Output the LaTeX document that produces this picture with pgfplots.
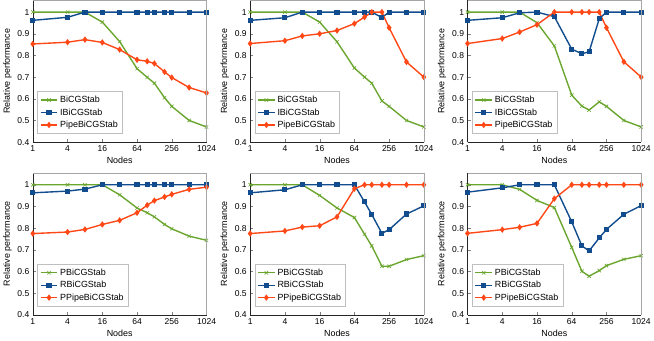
\documentclass[border=0pt]{standalone}
\usepackage{fontspec}
\setmainfont{Liberation Sans}
\usepackage{pgfplots}
\pgfplotsset{compat=1.18}
\usepgfplotslibrary{groupplots}

\definecolor{cgreen}{RGB}{106,166,46}
\definecolor{cblue}{RGB}{16,76,142}
\definecolor{cred}{RGB}{255,72,22}

\pgfplotsset{
  panel/.style={
    scale only axis, width=175pt, height=143pt,
    xmode=log, log basis x=2, xmin=1, xmax=1024,
    ymin=0.4, ymax=1.055,
    xtick={1,4,16,64,256,1024},
    xticklabels={1,4,16,64,256,1024},
    ytick={0.4,0.5,0.6,0.7,0.8,0.9,1},
    yticklabel style={/pgf/number format/fixed,/pgf/number format/precision=1},
    /pgf/number format/assume math mode=true,
    tick label style={font=\fontsize{8.6}{10}\selectfont},
    label style={font=\fontsize{9}{10}\selectfont},
    xlabel={Nodes}, ylabel={Relative performance},
    xlabel style={yshift=1pt},
    ylabel style={yshift=-1pt},
    axis x line*=bottom, axis y line*=left,
    major tick length=3pt,
    axis line style={black!85},
    after end axis/.code={\draw[gray!70] (rel axis cs:0,1) -- (rel axis cs:1,1) -- (rel axis cs:1,0);},
    legend style={at={(0.025,0.06)}, anchor=south west, draw=gray!50,
      font=\fontsize{9}{11}\selectfont, row sep=0.5pt, inner sep=2.5pt},
    legend cell align=left,
    every axis plot/.append style={line width=1.4pt},
  },
  gs/.style={color=cgreen, mark=x, mark size=2.4pt, mark options={line width=0.6pt}},
  bs/.style={color=cblue, mark=square*, mark size=1.9pt},
  rs/.style={color=cred, mark=diamond*, mark size=2.1pt},
}

\begin{document}
\begin{tikzpicture}
\begin{groupplot}[group style={group size=3 by 2, horizontal sep=44pt, vertical sep=31pt}, panel]

\nextgroupplot
\addplot[gs] coordinates {(1,1) (4,1) (8,1) (16,0.954) (32,0.864) (64,0.739) (96,0.699) (128,0.672) (192,0.605) (256,0.565) (512,0.50) (1024,0.47)};
\addlegendentry{BiCGStab}
\addplot[bs] coordinates {(1,0.962) (4,0.976) (8,1) (16,1) (32,1) (64,1) (96,1) (128,1) (192,1) (256,1) (512,1) (1024,1)};
\addlegendentry{IBiCGStab}
\addplot[rs] coordinates {(1,0.853) (4,0.861) (8,0.873) (16,0.860) (32,0.827) (64,0.780) (96,0.773) (128,0.763) (192,0.724) (256,0.698) (512,0.652) (1024,0.627)};
\addlegendentry{PipeBiCGStab}

\nextgroupplot
\addplot[gs] coordinates {(1,1) (4,1) (8,1) (16,0.954) (32,0.863) (64,0.742) (96,0.70) (128,0.672) (192,0.59) (256,0.565) (512,0.50) (1024,0.47)};
\addlegendentry{BiCGStab}
\addplot[bs] coordinates {(1,0.962) (4,0.974) (8,1) (16,1) (32,1) (64,1) (96,1) (128,1) (192,0.975) (256,1) (512,1) (1024,1)};
\addlegendentry{IBiCGStab}
\addplot[rs] coordinates {(1,0.855) (4,0.868) (8,0.89) (16,0.90) (32,0.915) (64,0.947) (96,0.977) (128,1) (192,1) (256,0.928) (512,0.77) (1024,0.70)};
\addlegendentry{PipeBiCGStab}

\nextgroupplot
\addplot[gs] coordinates {(1,1) (4,1) (8,1) (16,0.951) (32,0.844) (64,0.617) (96,0.566) (128,0.548) (192,0.586) (256,0.565) (512,0.50) (1024,0.47)};
\addlegendentry{BiCGStab}
\addplot[bs] coordinates {(1,0.962) (4,0.974) (8,0.997) (16,1) (32,0.979) (64,0.829) (96,0.808) (128,0.817) (192,0.97) (256,1) (512,1) (1024,1)};
\addlegendentry{IBiCGStab}
\addplot[rs] coordinates {(1,0.855) (4,0.878) (8,0.908) (16,0.942) (32,1) (64,1) (96,1) (128,1) (192,1) (256,0.928) (512,0.771) (1024,0.70)};
\addlegendentry{PipeBiCGStab}

\nextgroupplot
\addplot[gs] coordinates {(1,1) (4,1) (8,1) (16,1) (32,0.954) (64,0.893) (96,0.871) (128,0.852) (192,0.817) (256,0.797) (512,0.763) (1024,0.744)};
\addlegendentry{PBiCGStab}
\addplot[bs] coordinates {(1,0.963) (4,0.971) (8,0.980) (16,1) (32,1) (64,1) (96,1) (128,1) (192,1) (256,1) (512,1) (1024,1)};
\addlegendentry{RBiCGStab}
\addplot[rs] coordinates {(1,0.775) (4,0.782) (8,0.794) (16,0.817) (32,0.836) (64,0.871) (96,0.906) (128,0.927) (192,0.944) (256,0.956) (512,0.979) (1024,0.989)};
\addlegendentry{PPipeBiCGStab}

\nextgroupplot
\addplot[gs] coordinates {(1,1) (4,1) (8,1) (16,0.951) (32,0.893) (64,0.849) (96,0.772) (128,0.718) (192,0.624) (256,0.624) (512,0.655) (1024,0.673)};
\addlegendentry{PBiCGStab}
\addplot[bs] coordinates {(1,0.963) (4,0.977) (8,1) (16,1) (32,1) (64,1) (96,0.921) (128,0.863) (192,0.776) (256,0.793) (512,0.865) (1024,0.903)};
\addlegendentry{RBiCGStab}
\addplot[rs] coordinates {(1,0.775) (4,0.787) (8,0.805) (16,0.811) (32,0.852) (64,0.982) (96,1) (128,1) (192,1) (256,1) (512,1) (1024,1)};
\addlegendentry{PPipeBiCGStab}

\nextgroupplot
\addplot[gs] coordinates {(1,1) (4,1) (8,0.979) (16,0.928) (32,0.895) (64,0.711) (96,0.601) (128,0.578) (192,0.604) (256,0.627) (512,0.656) (1024,0.673)};
\addlegendentry{PBiCGStab}
\addplot[bs] coordinates {(1,0.966) (4,0.986) (8,1) (16,1) (32,1) (64,0.829) (96,0.718) (128,0.695) (192,0.755) (256,0.794) (512,0.864) (1024,0.904)};
\addlegendentry{RBiCGStab}
\addplot[rs] coordinates {(1,0.776) (4,0.793) (8,0.804) (16,0.822) (32,0.936) (64,1) (96,1) (128,1) (192,1) (256,1) (512,1) (1024,1)};
\addlegendentry{PPipeBiCGStab}

\end{groupplot}
\end{tikzpicture}
\end{document}
